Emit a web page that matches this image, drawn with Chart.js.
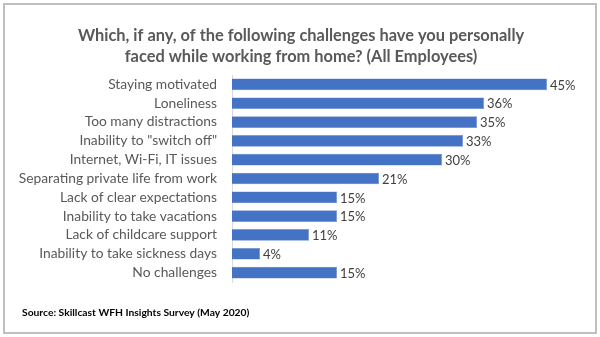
<!DOCTYPE html>
<html>
<head>
<meta charset="utf-8">
<script src="https://cdn.jsdelivr.net/npm/chart.js@4"></script>
<style>
  html, body { margin: 0; padding: 0; background: #fff; }
  #wrap { position: relative; width: 600px; height: 337px; }
</style>
</head>
<body>
<div id="wrap"><canvas id="chart" width="600" height="337"></canvas></div>
<script>
// Chart data
const categories = [
    "Staying motivated",
    "Loneliness",
    "Too many distractions",
    "Inability to \"switch off\"",
    "Internet, Wi-Fi, IT issues",
    "Separating private life from work",
    "Lack of clear expectations",
    "Inability to take vacations",
    "Lack of childcare support",
    "Inability to take sickness days",
    "No challenges"
];
const percentages = [45, 36, 35, 33, 30, 21, 15, 15, 11, 4, 15];
const titleLines = [
    "Which, if any, of the following challenges have you personally",
    "faced while working from home? (All Employees)"
];
const sourceText = "Source: Skillcast WFH Insights Survey (May 2020)";

const FONT = "Lato, 'Open Sans', 'DejaVu Sans', sans-serif";

// Frame, title and source text
const framePlugin = {
    id: "frame",
    beforeDraw(chart) {
        const ctx = chart.ctx;
        ctx.save();
        ctx.fillStyle = "#ffffff";
        ctx.fillRect(0, 0, chart.width, chart.height);
        ctx.strokeStyle = "#bfbfbf";
        ctx.lineWidth = 2;
        ctx.strokeRect(4, 4, chart.width - 8, chart.height - 8);
        ctx.restore();
    },
    afterDraw(chart) {
        const ctx = chart.ctx;
        ctx.save();
        ctx.fillStyle = "#595959";
        ctx.font = "bold 16.4px " + FONT;
        ctx.textAlign = "center";
        ctx.textBaseline = "middle";
        ctx.fillText(titleLines[0], 301, 36);
        ctx.fillText(titleLines[1], 301, 57);

        ctx.fillStyle = "#000000";
        ctx.font = "bold 10.3px " + FONT;
        ctx.textAlign = "left";
        ctx.fillText(sourceText, 22, 313);
        ctx.restore();
    }
};

// Value labels at the end of each bar
const valueLabels = {
    id: "valueLabels",
    afterDatasetsDraw(chart) {
        const ctx = chart.ctx;
        const meta = chart.getDatasetMeta(0);
        ctx.save();
        ctx.fillStyle = "#404040";
        ctx.font = "13px " + FONT;
        ctx.textAlign = "left";
        ctx.textBaseline = "middle";
        meta.data.forEach((bar, i) => {
            ctx.fillText(percentages[i] + "%", bar.x + 3, bar.y + 1);
        });
        ctx.restore();
    }
};

const ctx = document.getElementById("chart").getContext("2d");
new Chart(ctx, {
    type: "bar",
    data: {
        labels: categories,
        datasets: [{
            data: percentages,
            backgroundColor: "#4472c4",
            borderColor: "#6d8fd0",
            borderWidth: 0.5,
            barPercentage: 0.62,
            categoryPercentage: 1
        }]
    },
    options: {
        indexAxis: "y",
        responsive: false,
        animation: false,
        layout: { padding: { top: 75, bottom: 55, left: 0, right: 18 } },
        plugins: {
            legend: { display: false },
            tooltip: { enabled: false }
        },
        scales: {
            x: {
                display: false,
                min: 0,
                max: 50
            },
            y: {
                afterFit: (scale) => { scale.width = 232; },
                grid: { display: false, drawTicks: false },
                border: { display: true, color: "#d9d9d9", width: 1 },
                ticks: {
                    autoSkip: false,
                    padding: 15,
                    color: "#595959",
                    font: { family: FONT, size: 13.8 }
                }
            }
        }
    },
    plugins: [framePlugin, valueLabels]
});
</script>
</body>
</html>
